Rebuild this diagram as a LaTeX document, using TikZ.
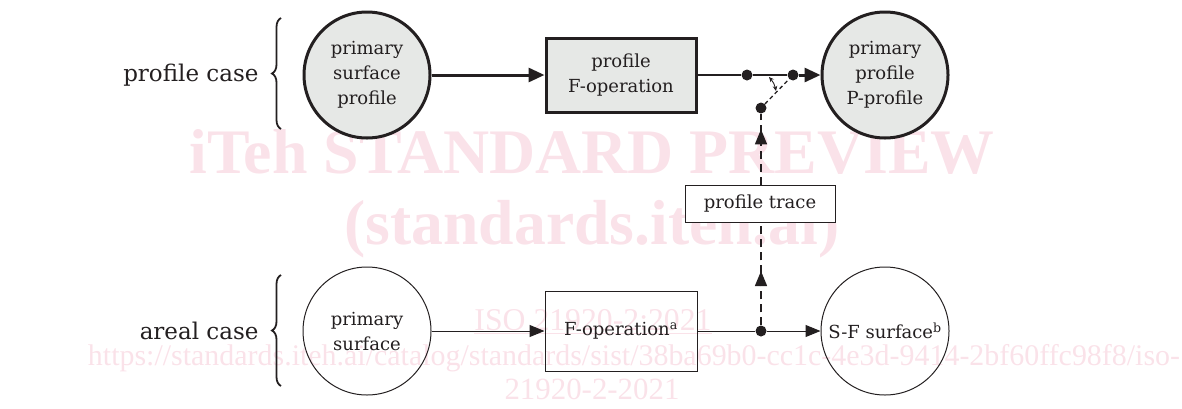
\documentclass[tikz,border=0pt]{standalone}
\usepackage{fontspec}
\setmainfont{DejaVu Serif}
\newfontfamily\wmfont{Liberation Serif}
\usetikzlibrary{arrows.meta,decorations.pathreplacing,decorations.markings}
\definecolor{fillgrey}{RGB}{230,232,230}
\definecolor{wmpink}{RGB}{250,226,233}
\definecolor{ink}{RGB}{35,31,32}
\begin{document}
\begin{tikzpicture}[x=1pt,y=-1pt,
  every node/.style={font=\fontsize{18}{25}\selectfont, text=ink},
  caselabel/.style={font=\fontsize{23}{28}\selectfont, anchor=east},
  thickcirc/.style={circle, draw=ink, line width=3pt, fill=fillgrey, minimum size=126pt, inner sep=0pt, align=center},
  thincirc/.style={circle, draw=ink, line width=1pt, minimum size=128pt, inner sep=0pt, align=center},
  thickbox/.style={rectangle, draw=ink, line width=3pt, fill=fillgrey, minimum width=150pt, minimum height=74pt, inner sep=0pt, align=center},
  thinbox/.style={rectangle, draw=ink, line width=1pt, fill=white, inner sep=0pt, align=center},
  dotnode/.style={circle, fill=ink, minimum size=11pt, inner sep=0pt},
  thickarrow/.style={draw=ink, line width=3pt, -{Triangle[length=16pt,width=14pt]}},
  thinarrow/.style={draw=ink, line width=1pt, -{Triangle[length=15pt,width=12pt]}},
  dashline/.style={draw=ink, line width=1.6pt, dash pattern=on 8pt off 5pt},
  midtri/.style={postaction={decorate}, decoration={markings, mark=at position #1 with {\arrow{Triangle[length=15pt,width=12pt]}}}},
  bracedeco/.style={draw=ink, line width=1.8pt, decorate, decoration={brace, amplitude=9pt}},
  wm/.style={text=wmpink, inner sep=0pt}
]
\useasboundingbox (0,0) rectangle (1182,408);

% watermark
\node[wm] (w1) at (592,152) {\resizebox{805pt}{44pt}{\wmfont\bfseries iTeh STANDARD PREVIEW}};
\node[wm] (w2) at (592,229) {\resizebox{495pt}{!}{\wmfont\bfseries (standards.iteh.ai)}};
\node[wm] (w3) at (593,322) {\resizebox{237pt}{!}{\wmfont\underline{ISO 21920-2:2021}}};
\node[wm] (w4) at (634,358) {\resizebox{1092pt}{!}{\wmfont https://standards.iteh.ai/catalog/standards/sist/38ba69b0-cc1c-4e3d-9414-2bf60ffc98f8/iso-}};
\node[wm] (w5) at (592,389) {\resizebox{175pt}{!}{\wmfont 21920-2-2021}};

% profile case row
\node[thickcirc] (psp) at (367,75) {primary\\surface\\profile};
\node[thickbox] (pfo) at (621,75) {profile\\F-operation};
\node[thickcirc] (ppp) at (885,75) {primary\\profile\\P-profile};
\node[dotnode] (d1) at (747,75) {};
\node[dotnode] (d2) at (793,75) {};
\node[dotnode] (d3) at (761,108) {};

% trace
\node[thinbox, minimum width=150pt, minimum height=37pt] (pt) at (760,204) {profile trace};

% areal case row
\node[thincirc] (ps) at (367,331) {primary\\surface};
\node[thinbox, minimum width=152pt, minimum height=80pt, fill=none] (fo) at (621,331) {F-operation\textsuperscript{a}};
\node[thincirc] (sf) at (885,331) {S-F surface\textsuperscript{b}};
\node[dotnode] (d4) at (761,331) {};

% labels and braces
\node[caselabel] (lpc) at (262,75) {profile case};
\node[caselabel] (lac) at (262,331) {areal case};
\coordinate (b1s) at (281,129);
\coordinate (b1e) at (281,18);
\coordinate (b2s) at (281,386);
\coordinate (b2e) at (281,275);
\draw[bracedeco] (b1s) -- (b1e);
\draw[bracedeco] (b2s) -- (b2e);

% connectors, profile row
\draw[thickarrow] (psp) -- (pfo);
\draw[draw=ink, line width=2.5pt] (pfo) -- (d1);
\draw[draw=ink, line width=1.3pt] (d1) -- (d2);
\draw[thickarrow] (d2) -- (ppp);
\draw[draw=ink, line width=1.3pt, dash pattern=on 4pt off 3pt] (d3) -- (d2);
\coordinate (s1) at (769,77);
\coordinate (s2) at (776,91);
\draw[draw=ink, line width=0.9pt, {Stealth[length=5pt,width=4.5pt]}-{Stealth[length=5pt,width=4.5pt]}] (s1) to[bend left=15] (s2);
\draw[dashline, midtri=0.78] (pt.north -| d3) -- (d3);

% connectors, areal row
\draw[thinarrow] (ps) -- (fo);
\draw[draw=ink, line width=1pt] (fo) -- (d4);
\draw[thinarrow] (d4) -- (sf);
\draw[dashline, midtri=0.53] (d4) -- (pt.south -| d4);
\end{tikzpicture}
\end{document}
